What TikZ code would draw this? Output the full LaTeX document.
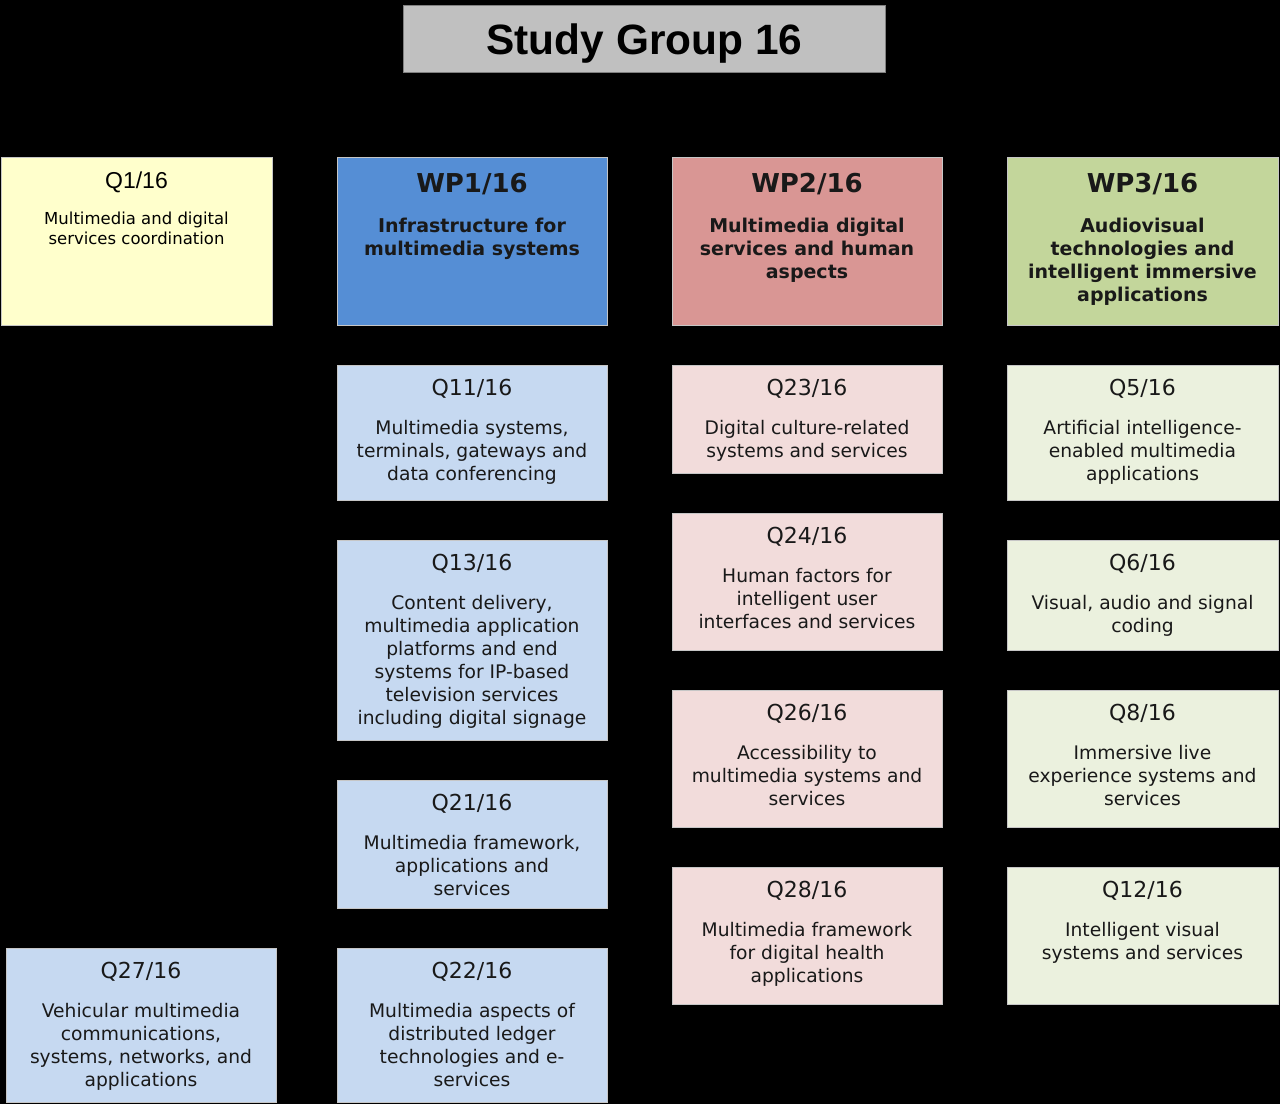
\documentclass[tikz,border=0pt]{standalone}
\usepackage{fontspec}
\setmainfont{DejaVu Sans}
\newfontfamily\arialfont{Liberation Sans}
\usetikzlibrary{positioning}

\definecolor{titlegray}{HTML}{C0C0C0}
\definecolor{coordyellow}{HTML}{FFFFCC}
\definecolor{wponecol}{HTML}{558ED5}
\definecolor{wptwocol}{HTML}{D99694}
\definecolor{wpthreecol}{HTML}{C3D69B}
\definecolor{qonecol}{HTML}{C6D9F1}
\definecolor{qtwocol}{HTML}{F2DCDB}
\definecolor{qthreecol}{HTML}{EBF1DE}

\tikzset{
  qbox/.style={draw=gray!45, line width=0.8pt, anchor=north west, inner sep=0pt,
    outer sep=0pt, minimum width=270pt},
  qhead/.style={font=\fontsize{22}{26}\selectfont, inner sep=0pt, text=black!90},
  qbody/.style={font=\fontsize{18.7}{23}\selectfont, align=center, inner sep=0pt, text=black!90},
  wphead/.style={font=\bfseries\fontsize{26}{30}\selectfont, inner sep=0pt, text=black!90},
  wpbody/.style={font=\bfseries\fontsize{19}{23}\selectfont, align=center, inner sep=0pt, text=black!90},
}

\begin{document}
\begin{tikzpicture}[x=1pt, y=-1pt]
  % Hintergrund
  \fill[black] (0,0) rectangle (1280,1104);

  % Titel
  \node[draw=gray, line width=0.8pt, fill=titlegray, anchor=north west, inner sep=0pt,
    minimum width=482pt, minimum height=67pt, text depth=0pt,
    font=\arialfont\bfseries\fontsize{42.4}{46}\selectfont]
    (sg) at (403,5) {Study Group 16};

  % Q1/16 (Koordination)
  \node[qbox, fill=coordyellow, minimum width=271pt, minimum height=168pt] (q1) at (1,157) {};
  \node[font=\arialfont\fontsize{23}{27}\selectfont, inner sep=0pt, below=15pt of q1.north] (q1h) {Q1/16};
  \node[font=\fontsize{16.5}{20}\selectfont, align=center, inner sep=0pt, below=55pt of q1.north] (q1b)
    {Multimedia and digital\\services coordination};

  % Arbeitsgruppen
  \node[qbox, fill=wponecol, minimum height=168pt] (wp1) at (337,157) {};
  \node[wphead, below=16pt of wp1.north] (wp1h) {WP1/16};
  \node[wpbody, below=61pt of wp1.north] (wp1b) {Infrastructure for\\multimedia systems};

  \node[qbox, fill=wptwocol, minimum height=168pt] (wp2) at (672,157) {};
  \node[wphead, below=16pt of wp2.north] (wp2h) {WP2/16};
  \node[wpbody, below=61pt of wp2.north] (wp2b) {Multimedia digital\\services and human\\aspects};

  \node[qbox, fill=wpthreecol, minimum width=271pt, minimum height=168pt] (wp3) at (1007,157) {};
  \node[wphead, below=16pt of wp3.north] (wp3h) {WP3/16};
  \node[wpbody, below=61pt of wp3.north] (wp3b) {Audiovisual\\technologies and\\intelligent immersive\\applications};

  % WP1 Fragen
  \node[qbox, fill=qonecol, minimum height=135pt] (q11) at (337,365) {};
  \node[qhead, below=14pt of q11.north] (q11h) {Q11/16};
  \node[qbody, below=55pt of q11.north] (q11b) {Multimedia systems,\\terminals, gateways and\\data conferencing};

  \node[qbox, fill=qonecol, minimum height=200pt] (q13) at (337,540) {};
  \node[qhead, below=14pt of q13.north] (q13h) {Q13/16};
  \node[qbody, below=55pt of q13.north] (q13b) {Content delivery,\\multimedia application\\platforms and end\\systems for IP-based\\television services\\including digital signage};

  \node[qbox, fill=qonecol, minimum height=128pt] (q21) at (337,780) {};
  \node[qhead, below=14pt of q21.north] (q21h) {Q21/16};
  \node[qbody, below=55pt of q21.north] (q21b) {Multimedia framework,\\applications and\\services};

  \node[qbox, fill=qonecol, minimum height=154pt] (q22) at (337,948) {};
  \node[qhead, below=14pt of q22.north] (q22h) {Q22/16};
  \node[qbody, below=55pt of q22.north] (q22b) {Multimedia aspects of\\distributed ledger\\technologies and e-\\services};

  \node[qbox, fill=qonecol, minimum height=154pt] (q27) at (6,948) {};
  \node[qhead, below=14pt of q27.north] (q27h) {Q27/16};
  \node[qbody, below=55pt of q27.north] (q27b) {Vehicular multimedia\\communications,\\systems, networks, and\\applications};

  % WP2 Fragen
  \node[qbox, fill=qtwocol, minimum height=108pt] (q23) at (672,365) {};
  \node[qhead, below=14pt of q23.north] (q23h) {Q23/16};
  \node[qbody, below=55pt of q23.north] (q23b) {Digital culture-related\\systems and services};

  \node[qbox, fill=qtwocol, minimum height=137pt] (q24) at (672,513) {};
  \node[qhead, below=14pt of q24.north] (q24h) {Q24/16};
  \node[qbody, below=55pt of q24.north] (q24b) {Human factors for\\intelligent user\\interfaces and services};

  \node[qbox, fill=qtwocol, minimum height=137pt] (q26) at (672,690) {};
  \node[qhead, below=14pt of q26.north] (q26h) {Q26/16};
  \node[qbody, below=55pt of q26.north] (q26b) {Accessibility to\\multimedia systems and\\services};

  \node[qbox, fill=qtwocol, minimum height=137pt] (q28) at (672,867) {};
  \node[qhead, below=14pt of q28.north] (q28h) {Q28/16};
  \node[qbody, below=55pt of q28.north] (q28b) {Multimedia framework\\for digital health\\applications};

  % WP3 Fragen
  \node[qbox, fill=qthreecol, minimum width=271pt, minimum height=135pt] (q5) at (1007,365) {};
  \node[qhead, below=14pt of q5.north] (q5h) {Q5/16};
  \node[qbody, below=55pt of q5.north] (q5b) {Artificial intelligence-\\enabled multimedia\\applications};

  \node[qbox, fill=qthreecol, minimum width=271pt, minimum height=110pt] (q6) at (1007,540) {};
  \node[qhead, below=14pt of q6.north] (q6h) {Q6/16};
  \node[qbody, below=55pt of q6.north] (q6b) {Visual, audio and signal\\coding};

  \node[qbox, fill=qthreecol, minimum width=271pt, minimum height=137pt] (q8) at (1007,690) {};
  \node[qhead, below=14pt of q8.north] (q8h) {Q8/16};
  \node[qbody, below=55pt of q8.north] (q8b) {Immersive live\\experience systems and\\services};

  \node[qbox, fill=qthreecol, minimum width=271pt, minimum height=137pt] (q12) at (1007,867) {};
  \node[qhead, below=14pt of q12.north] (q12h) {Q12/16};
  \node[qbody, below=55pt of q12.north] (q12b) {Intelligent visual\\systems and services};
\end{tikzpicture}
\end{document}
